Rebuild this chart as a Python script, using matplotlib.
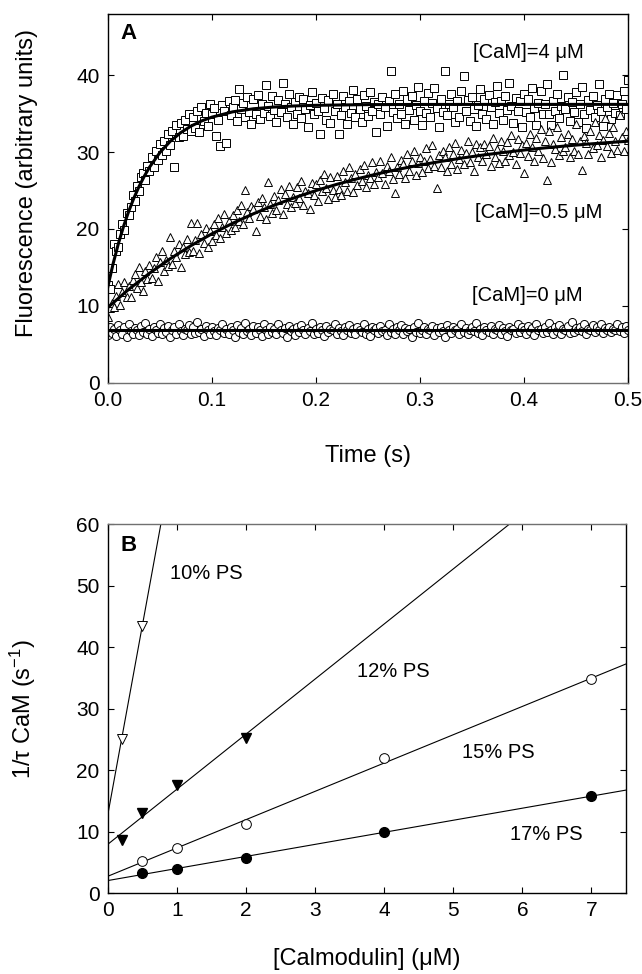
import numpy as np
import matplotlib
matplotlib.use("Agg")
import matplotlib.pyplot as plt

plt.rcParams['font.family'] = ['Liberation Sans', 'DejaVu Sans']
plt.rcParams['mathtext.fontset'] = 'custom'
plt.rcParams['mathtext.rm'] = 'Liberation Sans'
plt.rcParams['mathtext.it'] = 'Liberation Sans:italic'

# ---- panel A: stopped-flow traces (sampled every 2 ms) ----
time_s = np.linspace(0, 0.5, 251)

cam4 = [
    12.7, 12.2, 14.9, 18.0, 17.2, 17.6, 19.3, 20.6, 19.9, 22.1,
    21.8, 22.9, 24.4, 23.7, 25.6, 24.9, 26.8, 27.3, 26.4, 28.2,
    27.6, 29.3, 28.1, 30.2, 29.0, 31.1, 29.6, 31.5, 30.2, 32.4,
    30.9, 32.8, 28.1, 33.5, 31.9, 33.8, 32.1, 34.2, 33.0, 34.9,
    32.7, 34.5, 33.1, 35.4, 32.6, 35.8, 34.0, 35.1, 33.4, 36.2,
    34.9, 35.7, 32.1, 34.2, 30.8, 36.1, 35.3, 31.2, 36.6, 34.8,
    35.9, 36.8, 34.1, 38.2, 35.6, 36.4, 34.5, 37.1, 35.2, 33.6,
    36.9, 35.0, 37.4, 34.3, 36.2, 35.1, 38.7, 36.0, 34.7, 37.3,
    35.5, 33.9, 36.8, 35.2, 39.0, 36.3, 34.6, 37.6, 35.8, 33.7,
    36.5, 35.0, 37.2, 34.4, 36.9, 35.6, 33.2, 36.1, 37.8, 34.9,
    36.4, 35.3, 32.4, 37.0, 35.7, 34.2, 36.8, 33.8, 37.5, 35.4,
    36.2, 32.3, 34.8, 37.3, 35.9, 33.6, 36.6, 35.1, 38.1, 34.5,
    36.9, 35.6, 33.9, 37.4, 36.0, 34.7, 37.8, 35.3, 36.5, 32.6,
    36.2, 34.9, 37.1, 35.8, 33.4, 36.7, 40.5, 35.2, 37.6, 34.4,
    36.3, 35.0, 38.0, 33.7, 36.9, 35.5, 37.3, 34.2, 36.1, 38.4,
    35.4, 33.5, 36.7, 35.1, 37.7, 34.6, 36.4, 38.3, 35.7, 33.3,
    36.9, 35.2, 40.6, 34.8, 36.3, 37.5, 35.9, 33.9, 36.6, 34.5,
    37.9, 39.9, 35.3, 36.8, 34.0, 37.2, 35.6, 33.4, 36.1, 38.2,
    35.0, 36.9, 34.3, 37.4, 35.8, 33.6, 36.5, 38.6, 35.1, 36.7,
    34.2, 37.3, 35.5, 39.0, 36.0, 33.8, 37.0, 35.4, 36.6, 33.2,
    37.6, 35.2, 36.9, 34.6, 38.3, 35.7, 33.5, 36.4, 37.9, 34.9,
    36.2, 38.8, 35.0, 33.5, 36.7, 35.3, 37.5, 34.4, 36.0, 40.0,
    35.6, 37.1, 34.1, 36.5, 35.2, 37.8, 33.9, 36.3, 38.5, 35.0,
    33.1, 36.8, 35.5, 37.3, 34.6, 36.1, 38.9, 35.3, 33.4, 36.9,
    35.8, 37.6, 34.3, 36.4, 35.1, 37.4, 34.8, 36.2, 38.0, 35.6,
    39.4,
]

cam05 = [
    8.6, 9.7, 10.4, 9.9, 11.3, 12.9, 10.1, 11.8, 13.1, 11.2,
    12.6, 11.1, 13.4, 14.2, 12.3, 15.0, 13.1, 11.9, 14.6, 13.5,
    15.3, 13.6, 14.9, 16.4, 13.2, 15.7, 17.1, 14.5, 16.0, 15.2,
    19.0, 15.4, 17.2, 16.3, 18.1, 15.0, 17.6, 16.8, 18.7, 17.0,
    20.8, 17.1, 18.6, 20.8, 16.9, 19.3, 18.2, 20.1, 17.6, 19.8,
    18.5, 20.6, 19.2, 21.4, 18.8, 20.3, 22.0, 19.5, 21.1, 19.9,
    21.8, 20.2, 22.5, 21.0, 23.1, 20.6, 25.1, 22.2, 21.4, 23.0,
    22.6, 19.7, 23.5, 21.7, 24.0, 22.9, 21.3, 26.1, 23.2, 22.1,
    24.3, 22.5, 23.8, 25.2, 22.0, 24.6, 23.3, 25.6, 22.8, 24.1,
    23.4, 25.5, 24.0, 26.3, 23.1, 25.0, 24.7, 22.6, 26.0, 24.4,
    25.8, 23.7, 26.4, 24.9, 27.2, 25.3, 23.9, 26.7, 25.1, 24.2,
    26.9, 25.2, 24.4, 27.5, 26.1, 25.0, 28.0, 26.6, 24.8, 27.1,
    25.7, 27.8, 26.3, 28.3, 25.4, 27.0, 26.6, 28.7, 25.9, 27.4,
    26.8, 28.9, 27.3, 25.9, 28.2, 27.6, 29.4, 26.5, 24.7, 28.0,
    27.1, 29.0, 28.4, 26.6, 29.7, 27.5, 28.9, 30.2, 27.0, 28.6,
    29.3, 27.4, 28.8, 30.5, 27.9, 29.1, 30.9, 28.2, 25.3, 29.6,
    28.0, 30.1, 29.4, 27.6, 30.7, 28.5, 29.8, 31.2, 27.8, 29.1,
    30.3, 28.4, 29.9, 31.4, 28.7, 30.0, 27.5, 31.0, 29.3, 30.6,
    28.9, 31.1, 29.7, 30.8, 28.2, 31.8, 29.4, 30.4, 28.6, 31.5,
    30.2, 28.8, 31.3, 29.6, 32.2, 30.0, 28.5, 31.7, 29.9, 30.9,
    27.3, 31.2, 29.5, 32.4, 30.6, 28.9, 31.8, 30.1, 33.0, 29.2,
    31.5, 26.4, 32.7, 28.7, 31.1, 30.4, 33.3, 29.6, 31.9, 30.2,
    30.6, 32.3, 29.4, 31.7, 30.2, 33.6, 29.8, 31.4, 27.7, 32.1,
    31.2, 29.7, 32.8, 30.5, 33.9, 30.9, 32.2, 29.3, 31.6, 34.4,
    30.8, 32.5, 29.9, 33.2, 31.4, 30.3, 34.8, 31.9, 30.1, 32.7,
    31.6,
]

cam0 = [
    6.2, 7.3, 6.5, 7.0, 6.1, 7.5, 6.8, 6.4, 7.2, 6.0,
    7.6, 6.7, 6.3, 7.1, 6.9, 6.2, 7.4, 6.6, 7.8, 6.4,
    7.0, 6.1, 7.3, 6.8, 6.5, 7.7, 6.3, 7.1, 6.6, 7.4,
    6.0, 6.9, 7.2, 6.4, 7.6, 6.7, 6.2, 7.0, 6.8, 7.5,
    6.3, 7.2, 6.5, 7.9, 6.6, 7.0, 6.1, 7.4, 6.9, 6.4,
    7.3, 6.7, 6.2, 7.1, 6.8, 7.6, 6.5, 7.0, 6.3, 7.2,
    6.9, 6.0, 7.5, 6.6, 7.1, 6.4, 7.8, 6.7, 7.0, 6.2,
    7.4, 6.5, 7.2, 6.8, 6.1, 7.6, 6.9, 6.4, 7.3, 6.6,
    7.0, 6.3, 7.7, 6.8, 6.5, 7.1, 5.9, 7.4, 6.7, 7.0,
    6.2, 7.3, 6.6, 7.5, 6.9, 6.4, 7.1, 6.7, 7.8, 6.3,
    7.0, 6.5, 7.2, 6.8, 6.1, 7.4, 6.6, 7.0, 6.9, 7.6,
    6.4, 7.1, 6.7, 6.2, 7.3, 6.8, 7.5, 6.5, 7.0, 6.3,
    7.2, 6.9, 6.6, 7.7, 6.4, 7.0, 6.1, 7.3, 6.8, 7.1,
    6.5, 7.4, 6.7, 6.9, 6.2, 7.6, 6.6, 7.0, 6.4, 7.2,
    6.8, 7.5, 6.3, 7.1, 6.7, 7.0, 5.9, 7.3, 6.6, 7.8,
    6.5, 6.9, 7.2, 6.4, 7.0, 6.8, 7.4, 6.2, 7.1, 6.6,
    7.3, 6.7, 6.0, 7.5, 6.9, 6.5, 7.2, 6.8, 7.0, 6.3,
    7.6, 6.6, 7.1, 6.4, 6.9, 7.3, 6.7, 7.8, 6.5, 7.0,
    6.2, 7.2, 6.8, 6.6, 7.4, 6.3, 7.0, 6.9, 7.5, 6.4,
    7.1, 6.7, 6.1, 7.3, 6.8, 7.0, 6.5, 7.7, 6.6, 7.2,
    6.9, 6.4, 7.4, 6.7, 7.1, 6.2, 7.6, 6.8, 7.0, 6.5,
    7.3, 6.6, 7.8, 6.9, 6.3, 7.2, 6.7, 7.5, 6.4, 7.0,
    6.8, 7.4, 6.5, 7.9, 6.6, 7.1, 6.9, 7.3, 6.7, 7.6,
    6.4, 7.0, 6.8, 7.5, 6.6, 7.2, 6.9, 7.7, 6.5, 7.1,
    6.8, 7.3, 6.6, 7.0, 6.9, 7.6, 6.7, 7.2, 6.5, 7.4,
    6.8,
]

# fitted curves
fit4_t = [0, 0.005, 0.01, 0.015, 0.02, 0.025, 0.03, 0.035, 0.04, 0.05, 0.06,
          0.07, 0.08, 0.09, 0.10, 0.12, 0.14, 0.16, 0.18, 0.20, 0.25, 0.30, 0.40, 0.50]
fit4_y = [12.5, 15.45, 18.04, 20.30, 22.28, 24.01, 25.53, 26.85, 28.02, 29.93, 31.40,
          32.52, 33.38, 34.04, 34.54, 35.23, 35.63, 35.86, 36.00, 36.08, 36.17, 36.19, 36.2, 36.2]
fit05_t = [0, 0.02, 0.04, 0.06, 0.08, 0.10, 0.12, 0.14, 0.16, 0.18, 0.20, 0.22, 0.24,
           0.26, 0.28, 0.30, 0.32, 0.34, 0.36, 0.38, 0.40, 0.42, 0.44, 0.46, 0.48, 0.50]
fit05_y = [9.80, 12.14, 14.24, 16.14, 17.84, 19.37, 20.74, 21.98, 23.09, 24.09, 24.99,
           25.80, 26.53, 27.19, 27.78, 28.31, 28.78, 29.21, 29.60, 29.94, 30.26, 30.54,
           30.79, 31.02, 31.22, 31.41]
fit0_t = [0, 0.5]
fit0_y = [6.85, 6.85]

# ---- panel B: 1/tau vs calmodulin ----
x10 = [0.2, 0.5]
y10 = [25.0, 43.5]
x12 = [0.2, 0.5, 1.0, 2.0]
y12 = [8.7, 13.0, 17.6, 25.3]
x15 = [0.5, 1.0, 2.0, 4.0, 7.0]
y15 = [5.2, 7.4, 11.2, 22.0, 34.8]
x17 = [0.5, 1.0, 2.0, 4.0, 7.0]
y17 = [3.2, 4.0, 5.7, 10.0, 15.8]
# linear fits: intercept, slope
fit_b = {'10': (12.8, 61.5), '12': (7.95, 8.95), '15': (2.75, 4.6), '17': (2.05, 1.96)}

fig = plt.figure(figsize=(6.42, 9.74), dpi=100)
axA = fig.add_axes([0.168, 0.607, 0.810, 0.379])
axB = fig.add_axes([0.168, 0.083, 0.807, 0.379])

mk = dict(linestyle='none', mfc='white', mec='black', mew=0.7)
axA.plot(time_s, cam4, marker='s', ms=5.2, **mk)
axA.plot(time_s, cam05, marker='^', ms=5.8, **mk)
axA.plot(time_s, cam0, marker='o', ms=5.8, **mk)
for ft, fy in [(fit4_t, fit4_y), (fit05_t, fit05_y), (fit0_t, fit0_y)]:
    axA.plot(ft, fy, color='black', lw=2.2, zorder=5)

axA.set_xlim(0, 0.5)
axA.set_ylim(0, 48)
axA.set_xticks([0.0, 0.1, 0.2, 0.3, 0.4, 0.5])
axA.set_xticklabels(['0.0', '0.1', '0.2', '0.3', '0.4', '0.5'])
axA.set_yticks([0, 10, 20, 30, 40])
axA.set_xlabel('Time (s)', fontsize=17, labelpad=25)
axA.set_ylabel('Fluorescence (arbitrary units)', fontsize=17)
axA.yaxis.set_label_coords(-0.135, 0.54)
axA.text(0.351, 43.0, '[CaM]=4 \u03bcM', fontsize=14.5, va='center')
axA.text(0.353, 22.1, '[CaM]=0.5 \u03bcM', fontsize=14.5, va='center')
axA.text(0.350, 11.4, '[CaM]=0 \u03bcM', fontsize=14.5, va='center')
axA.text(0.025, 0.946, 'A', transform=axA.transAxes, fontsize=16,
         fontweight='bold', va='center')

xs = np.array([0, 7.5])
axB.plot(x10, y10, marker='v', ms=7, **mk)
axB.plot(x12, y12, marker='v', ms=7, linestyle='none', color='black')
axB.plot(x15, y15, marker='o', ms=7, **mk)
axB.plot(x17, y17, marker='o', ms=7, linestyle='none', color='black')
for key, (b, m) in fit_b.items():
    axB.plot(xs, b + m * xs, color='black', lw=0.8, zorder=1)

axB.set_xlim(0, 7.5)
axB.set_ylim(0, 60)
axB.set_xticks(range(0, 8))
axB.set_yticks(range(0, 61, 10))
axB.set_xlabel('[Calmodulin] (\u03bcM)', fontsize=17, labelpad=20)
axB.set_ylabel('1/\u03c4 CaM (s$^{-1}$)', fontsize=17)
axB.yaxis.set_label_coords(-0.135, 0.5)
axB.text(0.9, 51.9, '10% PS', fontsize=14.5, va='center')
axB.text(3.61, 36.0, '12% PS', fontsize=14.5, va='center')
axB.text(5.12, 22.8, '15% PS', fontsize=14.5, va='center')
axB.text(5.82, 9.6, '17% PS', fontsize=14.5, va='center')
axB.text(0.025, 0.943, 'B', transform=axB.transAxes, fontsize=16,
         fontweight='bold', va='center')

for ax in (axA, axB):
    ax.tick_params(direction='in', length=4, width=0.8, top=True, right=True,
                   labelsize=15, pad=6)
    for s in ax.spines.values():
        s.set_linewidth(1.0)
axA.spines['bottom'].set_color('#707070')
axB.spines['top'].set_color('#707070')

fig.savefig('out.png', dpi=100)
